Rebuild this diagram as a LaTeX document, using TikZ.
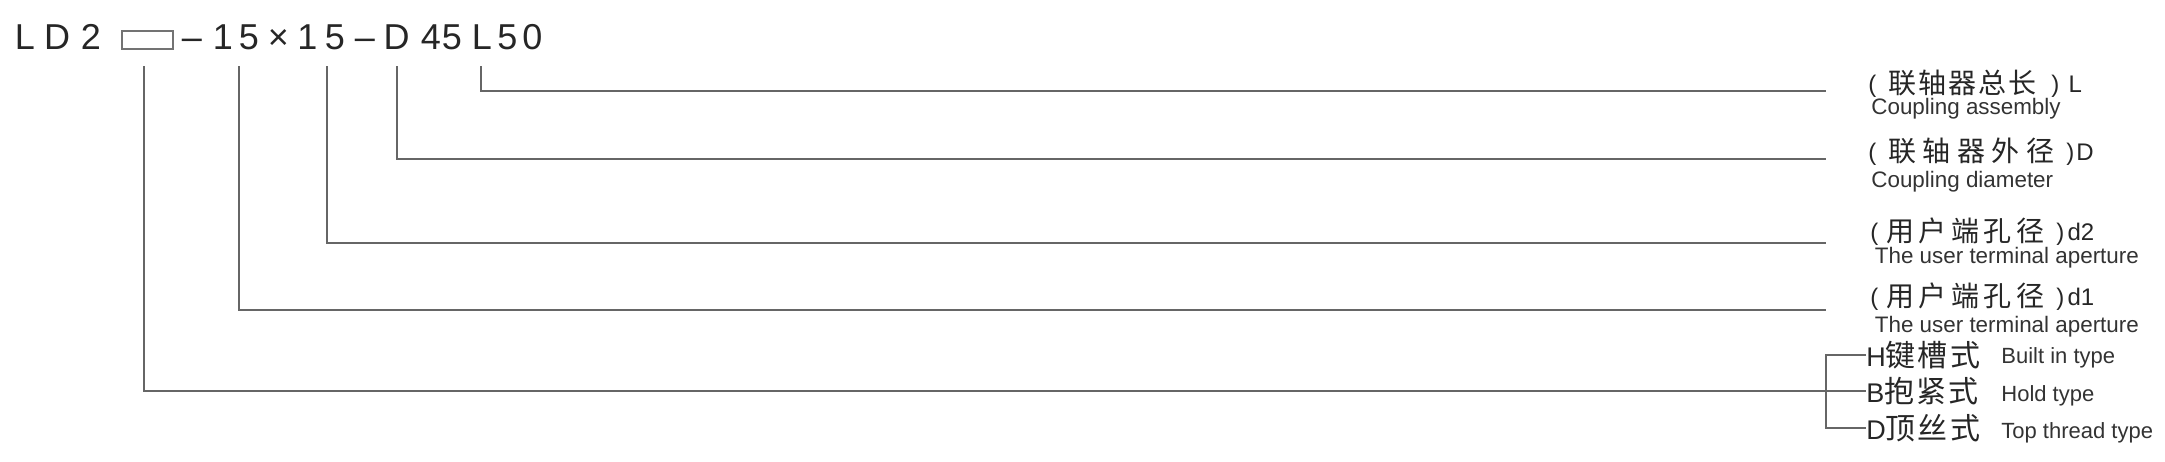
\documentclass[tikz,border=0pt]{standalone}
\usepackage{fontspec}
\setmainfont{Liberation Sans}
\newfontfamily\cjk{Noto Sans CJK SC}
\begin{document}
\begin{tikzpicture}[x=0.5pt,y=-0.5pt,
  conn/.style={draw=black!60, line width=0.8pt},
  ttl/.style={inner sep=0pt, anchor=base, font=\fontsize{18}{18}\selectfont, text=black!85},
  lbl/.style={inner sep=0pt, anchor=base west, font=\fontsize{12}{12}\selectfont, text=black!85},
  zh/.style={inner sep=0pt, anchor=base west, font=\cjk\fontsize{14}{14}\selectfont, text=black!85},
  sub/.style={inner sep=0pt, anchor=base west, font=\fontsize{11.2}{12}\selectfont, text=black!80},
  typ/.style={inner sep=0pt, anchor=west, font=\fontsize{13.5}{14}\selectfont, text=black!85},
  typsub/.style={inner sep=0pt, anchor=base west, font=\fontsize{11}{12}\selectfont, text=black!80}]
\useasboundingbox (0,0) rectangle (2165,461);

% title
\foreach \c/\xx/\n in {L/25/c1, D/57/c2, 2/91/c3, –/192/c4, 1/223/c5, 5/249/c6, ×/278.5/c7, 1/307.5/c8, 5/335/c9, –/365/c10, D/396.5/c11, 4/431/c12, 5/452/c13, L/482/c14, 5/507.5/c15, 0/532.5/c16}
  \node[ttl] (\n) at (\xx,49) {\c};
\node[draw=black!55, line width=0.7pt, inner sep=0pt, minimum width=25.5pt, minimum height=9pt] (box) at (147.5,40) {};

% tick tops and line ends
\coordinate (k1) at (144,66);
\coordinate (k2) at (239,66);
\coordinate (k3) at (327,66);
\coordinate (k4) at (397,66);
\coordinate (k5) at (481,66);
\coordinate (e1) at (1826,91);
\coordinate (e2) at (1826,159);
\coordinate (e3) at (1826,243);
\coordinate (e4) at (1826,310);
\coordinate (bx) at (1826,391);

% right labels
\node[lbl] (p1) at (1868,92) {(};
\node[zh] (z1) at (1888,93) {\addfontfeature{LetterSpace=7}联轴器总长};
\node[lbl] (q1) at (2051,92) {)\hspace{4.6pt}L};
\node[sub] (s1) at (1871,114) {Coupling assembly};

\node[lbl] (p2) at (1868,160) {(};
\node[zh] (z2) at (1888,161) {\addfontfeature{LetterSpace=23}联轴器外径};
\node[lbl] (q2) at (2066,160) {)\hspace{1pt}D};
\node[sub] (s2) at (1871,187) {Coupling diameter};

\node[lbl] (p3) at (1870,240) {(};
\node[zh] (z3) at (1886,241) {\addfontfeature{LetterSpace=16}用户端孔径};
\node[lbl] (q3) at (2056,240) {)\hspace{1.6pt}d2};
\node[sub] (s3) at (1874.5,263) {The user terminal aperture};

\node[lbl] (p4) at (1870,305) {(};
\node[zh] (z4) at (1886,306) {\addfontfeature{LetterSpace=16}用户端孔径};
\node[lbl] (q4) at (2056,305) {)\hspace{1.6pt}d1};
\node[sub] (s4) at (1874.5,332) {The user terminal aperture};

\node[typ] (tH) at (1866,355) {H{\cjk\fontsize{15}{15}\selectfont\addfontfeature{LetterSpace=7}键槽式}};
\node[typ] (tB) at (1866,391) {B{\cjk\fontsize{15}{15}\selectfont\addfontfeature{LetterSpace=7}抱紧式}};
\node[typ] (tD) at (1866,428) {D{\cjk\fontsize{15}{15}\selectfont\addfontfeature{LetterSpace=7}顶丝式}};
\node[typsub] (uH) at (2001,363) {Built in type};
\node[typsub] (uB) at (2001,401) {Hold type};
\node[typsub] (uD) at (2001,438) {Top thread type};

% connectors
\draw[conn] (k5) |- (e1);
\draw[conn] (k4) |- (e2);
\draw[conn] (k3) |- (e3);
\draw[conn] (k2) |- (e4);
\draw[conn] (k1) |- (tB.west);
\draw[conn] (tH.west) -| (bx) |- (tD.west);
\end{tikzpicture}
\end{document}
